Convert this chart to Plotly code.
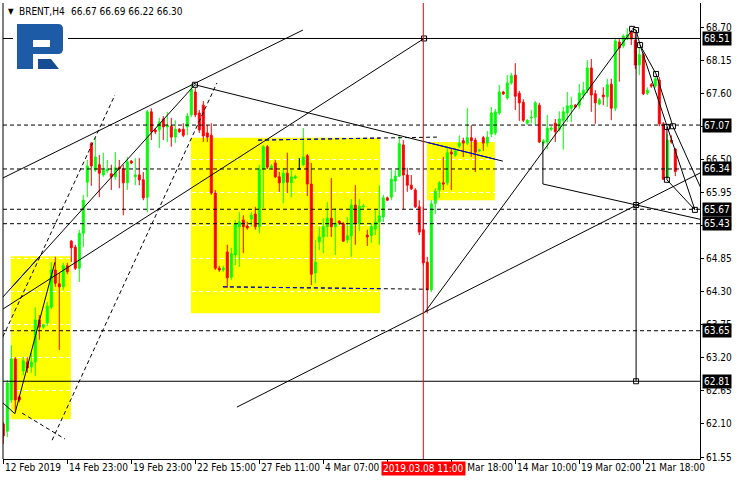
import plotly.graph_objects as go

# ---------------- data ----------------
OPEN = [62.10, 61.98, 62.50, 63.18, 62.55, 62.98, 63.13, 63.05, 63.13, 63.83,
        63.71, 63.78, 64.04, 64.66, 64.43, 64.38, 64.73, 65.14, 65.04, 64.69,
        65.27, 66.12, 66.76, 66.32, 66.41, 66.24, 66.31, 66.26, 66.21, 66.37,
        66.34, 66.11, 66.47, 66.21, 66.24, 66.16, 65.87, 67.29, 66.99, 66.99,
        67.17, 67.04, 67.05, 66.87, 67.00, 67.00, 67.04, 67.24, 67.62, 67.27,
        67.40, 66.94, 66.90, 65.94, 64.69, 64.66, 64.96, 64.54, 64.91, 65.38,
        65.49, 65.39, 65.51, 65.59, 65.38, 66.34, 66.71, 66.36, 66.44, 66.21,
        66.11, 66.27, 66.11, 66.19, 66.34, 66.41, 66.56, 66.09, 64.61, 65.13,
        65.21, 65.38, 65.52, 65.38, 65.47, 65.43, 65.16, 65.23, 65.74, 65.43,
        65.71, 65.24, 65.23, 65.34, 65.46, 65.54, 65.86, 65.87, 66.14, 66.22,
        66.74, 66.24, 66.07, 65.99, 65.71, 65.33, 64.79, 64.33, 65.77, 65.99,
        66.11, 66.11, 66.62, 66.57, 66.72, 66.81, 66.77, 66.86, 66.82, 66.64,
        66.86, 66.77, 66.92, 66.94, 67.27, 67.62, 67.52, 67.77, 67.90, 67.60,
        67.45, 67.10, 67.19, 67.20, 67.40, 66.77, 66.79, 67.00, 67.10, 67.00,
        67.15, 67.27, 67.35, 67.40, 67.40, 67.57, 67.65, 68.02, 67.59, 67.42,
        67.57, 67.54, 67.75, 67.35, 68.45, 68.39, 68.50, 68.65, 68.48, 68.07,
        68.24, 67.60, 67.74, 67.72, 67.82, 67.09, 66.17, 66.82, 66.67]
HIGH = [62.13, 62.83, 63.41, 63.21, 62.58, 63.21, 63.21, 63.28, 64.04, 63.91,
        63.76, 64.13, 64.79, 64.88, 64.61, 64.78, 64.78, 65.16, 65.08, 65.33,
        65.91, 66.49, 66.79, 66.86, 66.57, 66.61, 66.49, 66.41, 66.62, 66.49,
        66.41, 66.54, 66.49, 66.52, 66.52, 66.29, 67.32, 67.35, 67.02, 67.19,
        67.22, 67.29, 67.19, 67.15, 67.02, 67.10, 67.27, 67.75, 67.72, 67.32,
        67.47, 67.07, 67.10, 65.99, 64.73, 64.73, 65.08, 65.03, 65.49, 65.62,
        65.57, 65.46, 65.62, 65.71, 66.41, 66.74, 66.74, 66.42, 66.49, 66.29,
        66.36, 66.61, 66.32, 66.24, 66.52, 67.02, 66.59, 66.44, 65.16, 65.38,
        65.52, 65.79, 66.19, 65.69, 65.49, 65.46, 65.54, 65.84, 66.07, 65.84,
        65.76, 65.33, 65.44, 65.66, 66.07, 65.91, 65.88, 66.32, 66.32, 66.90,
        66.82, 66.36, 66.24, 66.02, 65.82, 65.71, 64.88, 65.82, 66.02, 66.14,
        66.54, 66.72, 66.69, 66.69, 66.90, 66.86, 67.35, 67.07, 66.86, 66.67,
        66.89, 66.97, 67.37, 67.34, 67.74, 67.64, 67.90, 67.94, 68.10, 67.64,
        67.50, 67.17, 67.32, 67.47, 67.44, 66.84, 67.24, 67.05, 67.17, 67.30,
        67.37, 67.62, 67.54, 67.42, 67.75, 67.79, 68.15, 68.17, 67.65, 67.52,
        67.70, 67.84, 67.84, 68.52, 68.50, 68.58, 68.68, 68.72, 68.65, 68.40,
        68.27, 67.70, 67.77, 67.90, 67.87, 67.12, 66.92, 66.90, 66.69]
LOW = [61.77, 61.88, 62.45, 62.30, 62.46, 62.91, 62.95, 62.95, 62.90, 63.50,
       63.68, 63.73, 64.01, 64.38, 63.33, 64.33, 64.59, 64.79, 64.66, 64.46,
       65.04, 65.87, 66.06, 66.29, 65.87, 66.21, 66.27, 65.99, 66.16, 66.02,
       65.57, 65.99, 66.42, 66.07, 66.07, 65.82, 65.62, 66.82, 66.92, 66.69,
       66.82, 66.79, 66.71, 66.77, 66.94, 66.87, 66.90, 67.20, 67.20, 66.94,
       66.79, 66.79, 65.91, 64.66, 64.63, 64.63, 64.36, 64.49, 64.74, 64.71,
       64.94, 65.33, 65.38, 65.33, 65.27, 65.69, 66.34, 66.33, 66.19, 65.96,
       65.77, 65.94, 65.87, 66.17, 66.34, 66.39, 65.89, 64.41, 64.44, 64.99,
       64.94, 65.21, 65.21, 64.91, 65.41, 65.13, 65.11, 64.88, 65.08, 65.31,
       65.68, 65.06, 65.11, 65.24, 65.08, 65.46, 65.81, 65.82, 65.96, 66.21,
       65.67, 65.96, 65.99, 65.69, 65.24, 64.74, 63.94, 64.29, 65.59, 65.86,
       65.99, 66.07, 65.99, 66.54, 66.69, 66.54, 66.74, 66.54, 66.29, 66.62,
       66.64, 66.71, 66.87, 66.90, 67.24, 67.57, 67.49, 67.74, 67.32, 67.14,
       67.12, 67.07, 67.10, 67.07, 66.77, 66.72, 66.67, 66.97, 66.79, 66.96,
       66.66, 67.12, 67.12, 67.35, 67.34, 67.50, 67.60, 67.29, 67.09, 67.40,
       67.40, 67.37, 67.15, 67.30, 67.79, 68.35, 68.48, 68.40, 68.00, 67.90,
       67.57, 67.57, 67.69, 67.69, 67.05, 66.16, 66.12, 66.76, 66.22]
CLOSE = [61.90, 62.78, 63.18, 62.50, 62.50, 63.15, 63.03, 63.13, 63.83, 63.71,
         63.75, 64.06, 64.66, 64.44, 64.38, 64.73, 64.63, 65.03, 64.69, 65.27,
         65.82, 66.39, 66.39, 66.54, 66.27, 66.32, 66.34, 66.21, 66.36, 66.34,
         66.11, 66.46, 66.44, 66.24, 66.16, 65.86, 67.29, 66.96, 66.96, 67.12,
         67.04, 67.07, 66.87, 67.00, 66.96, 66.90, 67.22, 67.67, 67.24, 66.99,
         66.89, 66.87, 65.94, 64.69, 64.66, 64.69, 64.53, 64.93, 65.43, 65.46,
         65.38, 65.36, 65.57, 65.38, 66.34, 66.71, 66.37, 66.39, 66.21, 66.11,
         66.27, 66.12, 66.21, 66.21, 66.34, 66.54, 66.09, 64.59, 64.79, 65.21,
         65.38, 65.52, 65.38, 65.44, 65.44, 65.14, 65.23, 65.74, 65.43, 65.72,
         65.72, 65.21, 65.38, 65.46, 65.56, 65.86, 65.82, 66.17, 66.22, 66.76,
         66.24, 66.07, 66.01, 65.71, 65.29, 64.78, 64.33, 65.76, 65.97, 66.11,
         66.09, 66.61, 66.59, 66.64, 66.77, 66.77, 66.86, 66.81, 66.62, 66.66,
         66.77, 66.87, 67.27, 67.29, 67.62, 67.59, 67.77, 67.89, 67.55, 67.44,
         67.15, 67.15, 67.20, 67.44, 66.79, 66.81, 67.02, 67.02, 66.96, 67.17,
         67.29, 67.39, 67.40, 67.37, 67.60, 67.65, 68.02, 67.57, 67.44, 67.49,
         67.54, 67.74, 67.35, 68.47, 68.35, 68.55, 68.57, 68.50, 68.07, 68.24,
         67.59, 67.65, 67.72, 67.84, 67.09, 66.17, 66.82, 66.79, 66.30]

XTICK_BARS = [0, 16, 32, 48, 64, 80, 96, 112, 128, 144, 160]
XTICK_LABELS = ["12 Feb 2019", "14 Feb 23:00", "19 Feb 23:00", "22 Feb 15:00",
                "27 Feb 11:00", "4 Mar 07:00", "6 Mar 23:00", "11 Mar 18:00",
                "14 Mar 10:00", "19 Mar 02:00", "21 Mar 18:00"]
YTICKS = [61.55, 62.10, 62.65, 63.20, 63.75, 64.30, 64.85, 65.40, 65.95,
          66.50, 67.05, 67.60, 68.15, 68.70]
SOLID_LEVELS = [68.51, 62.81]
DASHED_LEVELS = [67.07, 66.34, 65.67, 65.43, 63.65]
BID = 66.30
CROSS_BAR = 105
CROSS_LABEL = "2019.03.08 11:00"
SYMBOL = "BRENT,H4"

# yellow zones: (bar0, bar1, price0, price1)
ZONES = [(1.9, 16.9, 62.18, 64.89), (46.9, 94.2, 63.94, 66.86), (105.9, 122.9, 65.82, 66.79)]
# trend objects: list of (bar, price) points, dash, blue-inside-zone index
TRENDS = [
    ([(-0.1, 66.19), (74.9, 68.65)], "solid", None),
    ([(-0.1, 64.21), (47.9, 67.74)], "solid", 0),
    ([(-0.1, 64.01), (105.2, 68.51)], "solid", None),
    ([(-0.1, 62.45), (2.9, 62.27), (12.9, 64.79)], "solid", None),
    ([(-0.1, 63.55), (27.9, 67.57)], "dash", None),
    ([(12.2, 61.83), (53.4, 67.77)], "dash", None),
    ([(4.7, 62.28), (15.4, 61.85)], "dash", None),
    ([(47.9, 67.74), (124.9, 66.47)], "solid", 2),
    ([(63.7, 66.82), (108.4, 66.87)], "dash", 1),
    ([(54.9, 64.38), (106.2, 64.34)], "dash", 1),
    ([(105.4, 63.96), (157.2, 68.65)], "solid", None),
    ([(58.4, 62.38), (174.4, 66.28)], "solid", None),
    ([(158.2, 68.65), (158.2, 62.81)], "solid", None),
    ([(134.9, 66.79), (134.9, 66.09), (174.4, 65.50)], "solid", None),
    ([(157.2, 68.67), (158.2, 68.65), (159.2, 68.40), (163.2, 67.92)], "solid", None),
    ([(159.2, 68.40), (172.9, 65.66)], "solid", None),
    ([(163.2, 67.92), (167.4, 67.05), (174.4, 66.02)], "solid", None),
    ([(165.9, 67.04), (165.9, 66.16), (172.9, 65.66)], "solid", None),
]
ANCHOR_BARS = [47.9, 105.2, 157.2, 158.2, 159.2, 163.2, 165.9, 167.4, 165.9, 172.9, 158.2, 158.2]
ANCHOR_PRICES = [67.74, 68.51, 68.67, 68.65, 68.40, 67.92, 67.04, 67.05, 66.16, 65.66, 65.74, 62.81]

# ---------------- layout geometry ----------------
W, H = 740, 480
ML, MR, MT, MB = 3, 40, 3, 21
PW, PH = W - ML - MR, H - MT - MB
X_RANGE = [-0.075, 174.175]
Y_RANGE = [61.517, 69.10]
FONT = "DejaVu Sans Condensed, DejaVu Sans, Liberation Sans, sans-serif"


def pxx(px):
    return (px - ML) / PW


def pxy(py):
    return (H - MB - py) / PH


def clip(p0, p1, rect):
    (x0, y0), (x1, y1) = p0, p1
    rx0, rx1, ry0, ry1 = rect
    t0, t1 = 0.0, 1.0
    dx, dy = x1 - x0, y1 - y0
    for p, q in ((-dx, x0 - rx0), (dx, rx1 - x0), (-dy, y0 - ry0), (dy, ry1 - y0)):
        if p == 0:
            if q < 0:
                return None
        else:
            t = q / p
            if p < 0:
                t0 = max(t0, t)
            else:
                t1 = min(t1, t)
    if t0 >= t1:
        return None
    return (x0 + t0 * dx, y0 + t0 * dy), (x0 + t1 * dx, y0 + t1 * dy)


N = len(OPEN)
BARS = list(range(N))
fig = go.Figure()

fig.add_trace(go.Candlestick(
    x=BARS, open=OPEN, high=HIGH, low=LOW, close=CLOSE,
    increasing=dict(line=dict(color="#00ff00", width=1), fillcolor="#00ff00"),
    decreasing=dict(line=dict(color="#ff0000", width=1), fillcolor="#ff0000"),
    whiskerwidth=0, showlegend=False, hoverinfo="skip"))

# doji bars (open == close) drawn in black
dx, dy = [], []
for i in BARS:
    if OPEN[i] == CLOSE[i]:
        dx += [i, i, None, i - 0.4, i + 0.4, None]
        dy += [LOW[i], HIGH[i], None, OPEN[i], OPEN[i], None]
if dx:
    fig.add_trace(go.Scatter(x=dx, y=dy, mode="lines", line=dict(color="black", width=1),
                             showlegend=False, hoverinfo="skip"))

shapes = []
# yellow zones (background)
for (b0, b1, p0, p1) in ZONES:
    shapes.append(dict(type="rect", xref="x", yref="y", x0=b0, x1=b1, y0=p0, y1=p1,
                       fillcolor="#ffff00", line=dict(width=0), layer="below"))
# white bid line (only visible on yellow)
shapes.append(dict(type="line", xref="paper", yref="y", x0=0, x1=1, y0=BID, y1=BID,
                   line=dict(color="white", width=1), layer="below"))
# horizontal levels
for v in SOLID_LEVELS:
    shapes.append(dict(type="line", xref="paper", yref="y", x0=0, x1=1, y0=v, y1=v,
                       line=dict(color="black", width=1), layer="above"))
for v in DASHED_LEVELS:
    shapes.append(dict(type="line", xref="paper", yref="y", x0=0, x1=1, y0=v, y1=v,
                       line=dict(color="black", width=1, dash="4px,3px"), layer="above"))
# trend lines
for pts, dash, zi in TRENDS:
    d = "4px,3px" if dash == "dash" else "solid"
    for a, b in zip(pts[:-1], pts[1:]):
        shapes.append(dict(type="line", xref="x", yref="y", x0=a[0], y0=a[1], x1=b[0], y1=b[1],
                           line=dict(color="black", width=1, dash=d), layer="above"))
        if zi is not None:
            z = ZONES[zi]
            seg = clip(a, b, (z[0], z[1], z[2], z[3]))
            if seg:
                (ax, ay), (bx, by) = seg
                shapes.append(dict(type="line", xref="x", yref="y", x0=ax, y0=ay, x1=bx, y1=by,
                                   line=dict(color="#0000ff", width=1, dash=d), layer="above"))
# red crosshair
shapes.append(dict(type="line", xref="x", yref="paper", x0=CROSS_BAR, x1=CROSS_BAR, y0=0, y1=1,
                   line=dict(color="#ff0000", width=1), layer="above"))
# left border
shapes.append(dict(type="line", xref="paper", yref="paper", x0=0, x1=0, y0=0, y1=1,
                   line=dict(color="black", width=1), layer="above"))

# logo (decoration) in pixel geometry
def P(x, y):
    return f"{pxx(x):.5f},{pxy(y):.5f}"

shapes.append(dict(type="rect", xref="paper", yref="paper", x0=pxx(13), x1=pxx(68),
                   y0=pxy(73), y1=pxy(19), fillcolor="white", line=dict(width=0), layer="above"))
bowl = (f"M{P(17,24)} L{P(58,24)} Q{P(63,24)} {P(63,29)} L{P(63,49)} Q{P(63,54)} {P(58,54)} "
        f"L{P(33,54)} L{P(33,69)} L{P(17,69)} Z")
shapes.append(dict(type="path", xref="paper", yref="paper", path=bowl,
                   fillcolor="#1d5ba6", line=dict(width=0), layer="above"))
shapes.append(dict(type="rect", xref="paper", yref="paper", x0=pxx(33), x1=pxx(50),
                   y0=pxy(47), y1=pxy(40), fillcolor="white", line=dict(width=0), layer="above"))
leg = f"M{P(38,59)} L{P(51,59)} L{P(59,69)} L{P(38,69)} Z"
shapes.append(dict(type="path", xref="paper", yref="paper", path=leg,
                   fillcolor="#164d92", line=dict(width=0), layer="above"))

# anchor squares
fig.add_trace(go.Scatter(x=ANCHOR_BARS, y=ANCHOR_PRICES, mode="markers",
                         marker=dict(symbol="square", size=5, color="white",
                                     line=dict(color="black", width=1)),
                         showlegend=False, hoverinfo="skip"))

annotations = []
# x tick labels (left aligned after the tick)
for b, t in zip(XTICK_BARS, XTICK_LABELS):
    annotations.append(dict(x=b, y=0, xref="x", yref="paper", text=t, showarrow=False,
                            xanchor="left", yanchor="top", xshift=0, yshift=-1,
                            font=dict(family=FONT, size=10, color="black")))
# crosshair time label
annotations.append(dict(x=CROSS_BAR, y=0, xref="x", yref="paper", text=CROSS_LABEL,
                        showarrow=False, xanchor="center", yanchor="top", yshift=-2,
                        bgcolor="#ff0000", borderpad=1,
                        font=dict(family=FONT, size=10, color="white")))
# level price boxes
for v in SOLID_LEVELS + DASHED_LEVELS:
    annotations.append(dict(x=1, y=v, xref="paper", yref="y", text=f"{v:.2f}", showarrow=False,
                            xanchor="left", yanchor="middle", xshift=2, bgcolor="black",
                            borderpad=1, font=dict(family=FONT, size=10, color="white")))
# title
annotations.append(dict(x=pxx(6), y=pxy(11), xref="paper", yref="paper", text="▼",
                        showarrow=False, xanchor="left", yanchor="middle",
                        font=dict(family=FONT, size=8, color="black")))
annotations.append(dict(x=pxx(17), y=pxy(11), xref="paper", yref="paper", text=SYMBOL,
                        showarrow=False, xanchor="left", yanchor="middle",
                        font=dict(family=FONT, size=10, color="black")))
annotations.append(dict(x=pxx(69), y=pxy(11), xref="paper", yref="paper",
                        text=f"{OPEN[-1]:.2f} {HIGH[-1]:.2f} {LOW[-1]:.2f} {CLOSE[-1]:.2f}",
                        showarrow=False, xanchor="left", yanchor="middle",
                        font=dict(family=FONT, size=10, color="black")))

fig.update_layout(
    width=W, height=H, margin=dict(l=ML, r=MR, t=MT, b=MB, pad=0),
    paper_bgcolor="white", plot_bgcolor="white", showlegend=False,
    shapes=shapes, annotations=annotations, hovermode=False,
    xaxis=dict(range=X_RANGE, rangeslider=dict(visible=False), showgrid=False, zeroline=False,
               showline=True, linecolor="black", linewidth=1, ticks="outside", ticklen=4,
               tickcolor="black", tickvals=XTICK_BARS, showticklabels=False, fixedrange=True),
    yaxis=dict(range=Y_RANGE, side="right", showgrid=True, gridcolor="white", griddash="4px,3px",
               gridwidth=1, zeroline=False, showline=True, linecolor="black", linewidth=1,
               ticks="outside", ticklen=3, tickcolor="black", tickvals=YTICKS,
               ticktext=[f"{v:.2f}" for v in YTICKS],
               tickfont=dict(family=FONT, size=10, color="black"), fixedrange=True),
)

fig.write_html("out.html", config={"displayModeBar": False},
               post_script="document.body.style.margin='0';document.body.style.padding='0';")
